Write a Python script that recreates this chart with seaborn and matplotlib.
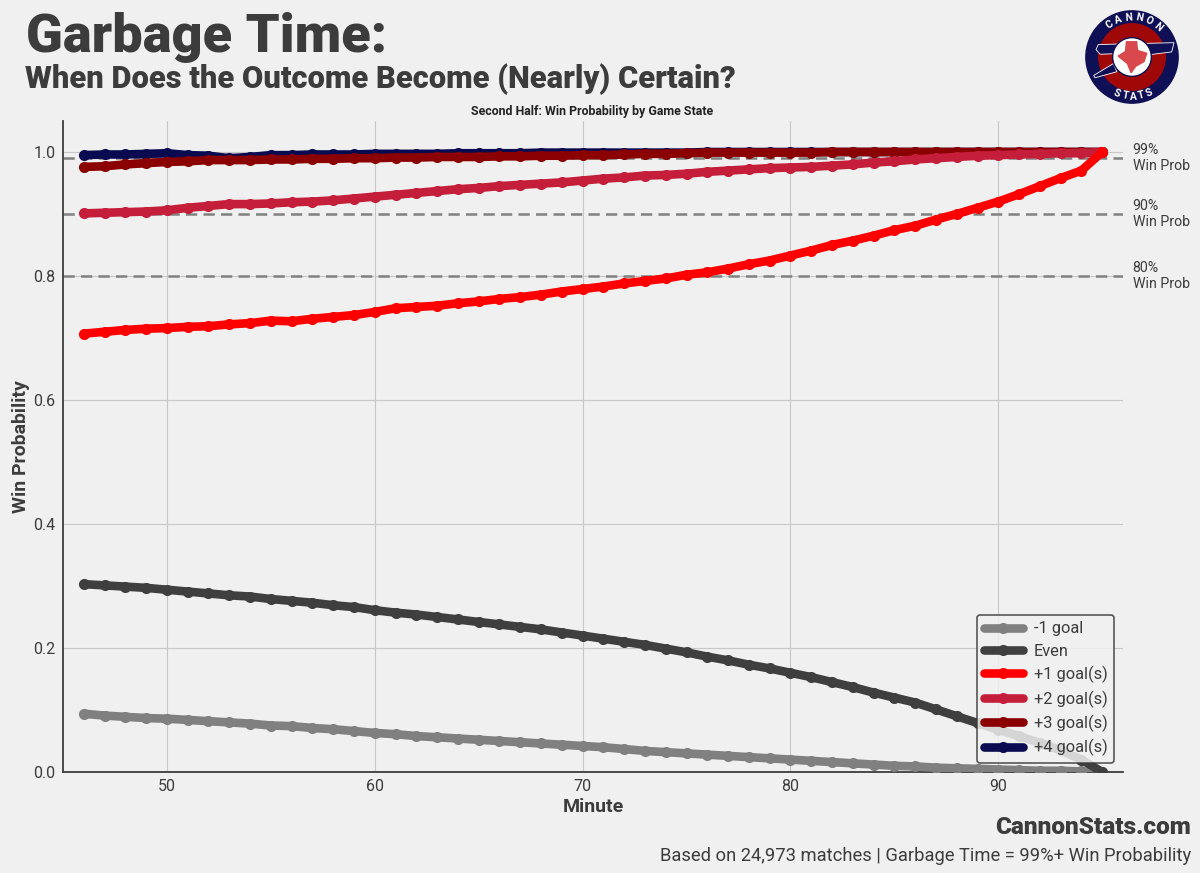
import numpy as np
import pandas as pd
import matplotlib.pyplot as plt
import matplotlib.patches as mpatches
import seaborn as sns

minutes = list(range(46, 96))

down_one = [.094, .091, .089, .087, .086, .084, .082, .080, .078, .075,
            .074, .071, .069, .066, .063, .061, .058, .056, .054, .052,
            .050, .048, .046, .044, .042, .040, .037, .034, .032, .030,
            .028, .026, .024, .022, .020, .018, .016, .014, .012, .010,
            .009, .007, .006, .005, .004, .003, .002, .002, .001, .000]
even = [.303, .301, .299, .297, .294, .291, .288, .285, .283, .279,
        .276, .273, .269, .266, .261, .257, .254, .250, .246, .242,
        .238, .234, .230, .225, .220, .215, .210, .205, .199, .193,
        .186, .180, .173, .167, .160, .153, .145, .137, .128, .120,
        .112, .101, .090, .079, .068, .058, .047, .035, .020, .000]
up_one = [.707, .710, .713, .715, .716, .718, .719, .722, .724, .728,
          .727, .731, .734, .737, .742, .748, .750, .752, .756, .759,
          .763, .766, .770, .775, .779, .783, .788, .792, .796, .802,
          .806, .812, .819, .825, .833, .841, .850, .857, .865, .874,
          .881, .891, .900, .910, .920, .932, .945, .958, .970, 1.00]
up_two = [.901, .902, .903, .904, .906, .910, .913, .916, .916, .917,
          .919, .920, .922, .925, .928, .931, .934, .937, .940, .942,
          .945, .947, .949, .951, .954, .957, .959, .962, .963, .965,
          .968, .970, .972, .974, .975, .976, .978, .980, .983, .985,
          .988, .990, .992, .994, .995, .996, .997, .998, .998, 1.00]
up_three = [.976, .977, .980, .982, .984, .985, .987, .987, .987, .988,
            .988, .989, .989, .990, .990, .991, .991, .992, .992, .992,
            .993, .993, .994, .994, .995, .995, .996, .997, .997, .998,
            .999, .999, .999, .999, .999, .999, 1.00, 1.00, 1.00, 1.00,
            1.00, 1.00, 1.00, 1.00, 1.00, 1.00, 1.00, 1.00, 1.00, 1.00]
up_four = [.995, .996, .996, .997, .998, .995, .994, .990, .992, .995,
           .995, .996, .996, .996, .997, .997, .997, .997, .998, .998,
           .998, .998, .999, .999, .999, .999, .999, .999, .999, .999,
           1.00, 1.00, 1.00, 1.00, 1.00, 1.00, 1.00, 1.00, 1.00, 1.00,
           1.00, 1.00, 1.00, 1.00, 1.00, 1.00, 1.00, 1.00, 1.00, 1.00]

series_names = ['-1 goal', 'Even', '+1 goal(s)', '+2 goal(s)', '+3 goal(s)', '+4 goal(s)']
series_values = [down_one, even, up_one, up_two, up_three, up_four]
series_colors = ['#808080', '#3f3f3f', '#ff0000', '#c41e3a', '#8b0000', '#0a0a50']
series_order = [3, 4, 8, 7, 6, 5]

ref_levels = [0.99, 0.90, 0.80]
ref_labels = ['99%\nWin Prob', '90%\nWin Prob', '80%\nWin Prob']
x_ticks = [50, 60, 70, 80, 90]
y_ticks = [0.0, 0.2, 0.4, 0.6, 0.8, 1.0]

BG = '#f0f0f0'
DARK = '#3c3c3c'

sns.set_theme(style='whitegrid')
plt.rcParams['font.family'] = ['Roboto', 'DejaVu Sans']
plt.rcParams['axes.facecolor'] = BG
plt.rcParams['figure.facecolor'] = BG
plt.rcParams['savefig.facecolor'] = BG

fig = plt.figure(figsize=(12, 8.73), dpi=100)
ax = fig.add_axes([63 / 1200, 1 - 772 / 873, 1060 / 1200, 651 / 873])

df = pd.DataFrame({'minute': minutes})
for name, vals in zip(series_names, series_values):
    df[name] = vals
long_df = df.melt(id_vars='minute', var_name='state', value_name='win_prob')

# reference lines under the curves
for lvl in ref_levels:
    ax.axhline(lvl, color='#808080', lw=1.8, ls=(0, (4.5, 2.5)), zorder=2)

for name, color, order in zip(series_names, series_colors, series_order):
    sns.lineplot(data=long_df[long_df['state'] == name], x='minute', y='win_prob',
                 color=color, lw=6.2, marker='o', markersize=8, markeredgewidth=0,
                 label=name, ax=ax, zorder=order, solid_capstyle='round')

ax.set_xlim(45, 96)
ax.set_ylim(0, 1.05)
ax.set_xticks(x_ticks)
ax.set_yticks(y_ticks)
ax.grid(True, color='#c8c8c8', lw=0.8)
ax.set_axisbelow(True)
ax.tick_params(labelsize=11.5, colors=DARK, length=0)
ax.tick_params(axis='x', pad=5)
ax.tick_params(axis='y', pad=5.5)
for side in ['top', 'right']:
    ax.spines[side].set_visible(False)
for side in ['left', 'bottom']:
    ax.spines[side].set_color(DARK)
    ax.spines[side].set_linewidth(1.3)
ax.set_xlabel('Minute', fontsize=14, fontweight='bold', color=DARK, labelpad=3)
ax.set_ylabel('Win Probability', fontsize=14, fontweight='bold', color=DARK, labelpad=2)

leg = ax.legend(loc='lower right', bbox_to_anchor=(0.9915, 0.0138), borderaxespad=0,
                fontsize=11.8, frameon=True, framealpha=0.85, facecolor=BG, edgecolor=DARK,
                labelcolor=DARK, borderpad=0.4, labelspacing=0.44, handlelength=2.4,
                handletextpad=0.65, fancybox=True)
leg.get_frame().set_linewidth(1.2)
leg.set_zorder(20)

for lvl, lab in zip(ref_levels, ref_labels):
    ax.annotate(lab, xy=(1, lvl), xycoords=('axes fraction', 'data'), xytext=(7, 0),
                textcoords='offset points', fontsize=10.2, color=DARK, va='center',
                ha='left', linespacing=1.2, annotation_clip=False)

fig.text(26 / 1200, 1 - 52 / 873, 'Garbage Time:', fontsize=39, fontweight='black', color=DARK)
fig.text(25 / 1200, 1 - 88 / 873, 'When Does the Outcome Become (Nearly) Certain?',
         fontsize=22.2, fontweight='black', color=DARK)
fig.text(592 / 1200, 1 - 115 / 873, 'Second Half: Win Probability by Game State',
         fontsize=8.9, fontweight='bold', color='#222222', ha='center')
fig.text(1191 / 1200, 1 - 834 / 873, 'CannonStats.com', fontsize=17.6, fontweight='black',
         color=DARK, ha='right')
fig.text(1191 / 1200, 1 - 861 / 873, 'Based on 24,973 matches | Garbage Time = 99%+ Win Probability',
         fontsize=13.2, color=DARK, ha='right')

# logo, drawn by hand
logo = fig.add_axes([1084 / 1200, 1 - 105 / 873, 96 / 1200, 96 / 873])
logo.set_xlim(-1.04, 1.04)
logo.set_ylim(-1.04, 1.04)
logo.set_aspect('equal')
logo.axis('off')
logo.add_patch(mpatches.Circle((0, 0), 1.0, color='#0f0f55'))
logo.add_patch(mpatches.Circle((0, 0), 0.72, color='#a00808'))
logo.add_patch(mpatches.Polygon([[-0.73, 0.27], [0.91, 0.31], [0.86, 0.11], [0.30, 0.04],
                                 [-0.4, 0.07], [-0.69, 0.06], [-0.78, 0.16]],
                                fc='#0f0f55', ec='white', lw=0.6))
logo.add_patch(mpatches.Polygon([[-0.83, -0.40], [-0.4, -0.14], [-0.33, -0.32], [-0.8, -0.45]],
                                fc='#0f0f55', ec='white', lw=0.6))
logo.add_patch(mpatches.Circle((0, 0), 0.42, fc='white', ec='#0f0f55', lw=1.0))
logo.add_patch(mpatches.Polygon([[-0.12, 0.33], [0.1, 0.33], [0.12, 0.14], [0.32, 0.08],
                                 [0.26, -0.1], [0.08, -0.2], [-0.02, -0.34], [-0.1, -0.14],
                                 [-0.3, 0.02], [-0.14, 0.12]], color='#d8484c'))
for word, center, step, radius, sign in [('CANNON', 87, 15, 0.86, 1), ('STATS', 272, 12, 0.86, -1)]:
    n = len(word)
    for i, ch in enumerate(word):
        ang = center - sign * step * (i - (n - 1) / 2)
        rad = np.deg2rad(ang)
        logo.text(radius * np.cos(rad), radius * np.sin(rad), ch, color='white', fontsize=7.5,
                  fontweight='bold', ha='center', va='center',
                  rotation=ang - 90 if sign == 1 else ang + 90)

fig.savefig('out.png', dpi=100)
